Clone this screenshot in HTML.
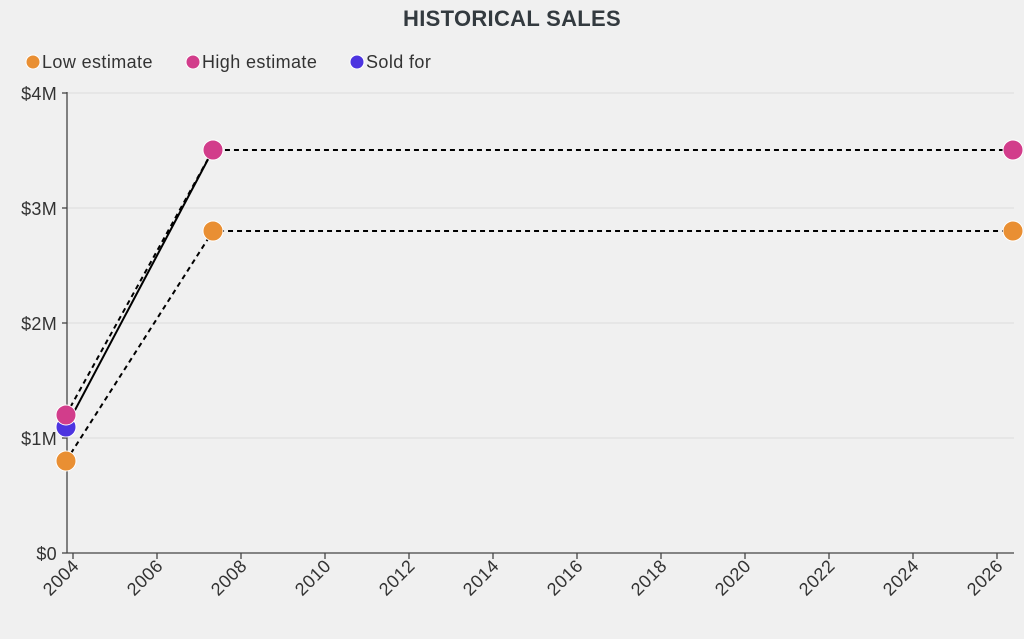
<!DOCTYPE html><html><head><style>body{margin:0;background:#f0f0f0;font-family:"Liberation Sans",sans-serif}</style></head><body>
<svg width="1024" height="634" xmlns="http://www.w3.org/2000/svg" font-family="Liberation Sans, sans-serif">
<rect width="1024" height="634" fill="#f0f0f0"/>
<text x="512" y="26" text-anchor="middle" font-size="22" font-weight="bold" fill="#333a3f" letter-spacing="0.3">HISTORICAL SALES</text>
<g font-size="18" fill="#333" letter-spacing="0.4">
<circle cx="33" cy="62" r="7" fill="#e98f33" stroke="#fff" stroke-width="1"/><text x="42" y="68">Low estimate</text>
<circle cx="193" cy="62" r="7" fill="#d23d8b" stroke="#fff" stroke-width="1"/><text x="202" y="68">High estimate</text>
<circle cx="357" cy="62" r="7" fill="#4c34e0" stroke="#fff" stroke-width="1"/><text x="366" y="68">Sold for</text>
</g>
<g stroke="#ddd" stroke-width="1">
<line x1="67" x2="1014" y1="93" y2="93"/><line x1="67" x2="1014" y1="208" y2="208"/><line x1="67" x2="1014" y1="323" y2="323"/><line x1="67" x2="1014" y1="438" y2="438"/>
</g>
<g stroke="#444" stroke-width="1.3" fill="none">
<line x1="67" y1="92" x2="67" y2="553"/><line x1="67" y1="553" x2="1014" y2="553"/>
<line x1="62" x2="67" y1="93" y2="93"/><line x1="62" x2="67" y1="208" y2="208"/><line x1="62" x2="67" y1="323" y2="323"/><line x1="62" x2="67" y1="438" y2="438"/><line x1="62" x2="67" y1="553" y2="553"/>
</g>
<g font-size="18" fill="#333" text-anchor="end" letter-spacing="0.3">
<text x="57" y="100">$4M</text><text x="57" y="215">$3M</text><text x="57" y="330">$2M</text><text x="57" y="445">$1M</text><text x="57" y="560">$0</text>
</g>
<g stroke="#444" stroke-width="1.3">
<line x1="73" x2="73" y1="553" y2="559"/><line x1="157" x2="157" y1="553" y2="559"/><line x1="241" x2="241" y1="553" y2="559"/><line x1="325" x2="325" y1="553" y2="559"/><line x1="409" x2="409" y1="553" y2="559"/><line x1="493" x2="493" y1="553" y2="559"/><line x1="577" x2="577" y1="553" y2="559"/><line x1="661" x2="661" y1="553" y2="559"/><line x1="745" x2="745" y1="553" y2="559"/><line x1="829" x2="829" y1="553" y2="559"/><line x1="913" x2="913" y1="553" y2="559"/><line x1="997" x2="997" y1="553" y2="559"/>
</g>
<g font-size="18" fill="#333" text-anchor="end" letter-spacing="0.5">
<text transform="translate(80,567) rotate(-45)">2004</text>
<text transform="translate(164,567) rotate(-45)">2006</text>
<text transform="translate(248,567) rotate(-45)">2008</text>
<text transform="translate(332,567) rotate(-45)">2010</text>
<text transform="translate(416,567) rotate(-45)">2012</text>
<text transform="translate(500,567) rotate(-45)">2014</text>
<text transform="translate(584,567) rotate(-45)">2016</text>
<text transform="translate(668,567) rotate(-45)">2018</text>
<text transform="translate(752,567) rotate(-45)">2020</text>
<text transform="translate(836,567) rotate(-45)">2022</text>
<text transform="translate(920,567) rotate(-45)">2024</text>
<text transform="translate(1004,567) rotate(-45)">2026</text>
</g>
<g fill="none" stroke="#000" stroke-width="2">
<polyline points="66,461 213,231 1013,231" stroke-dasharray="5,4"/>
<polyline points="66,415 213,150 1013,150" stroke-dasharray="5,4"/>
<line x1="66" y1="427" x2="213" y2="150"/>
</g>
<g stroke="#fff" stroke-width="1">
<circle cx="66" cy="461" r="10" fill="#e98f33"/><circle cx="213" cy="231" r="10" fill="#e98f33"/><circle cx="1013" cy="231" r="10" fill="#e98f33"/>
<circle cx="66" cy="427" r="10" fill="#4c34e0"/>
<circle cx="66" cy="415" r="10" fill="#d23d8b"/><circle cx="213" cy="150" r="10" fill="#d23d8b"/><circle cx="1013" cy="150" r="10" fill="#d23d8b"/>
</g>
</svg></body></html>
